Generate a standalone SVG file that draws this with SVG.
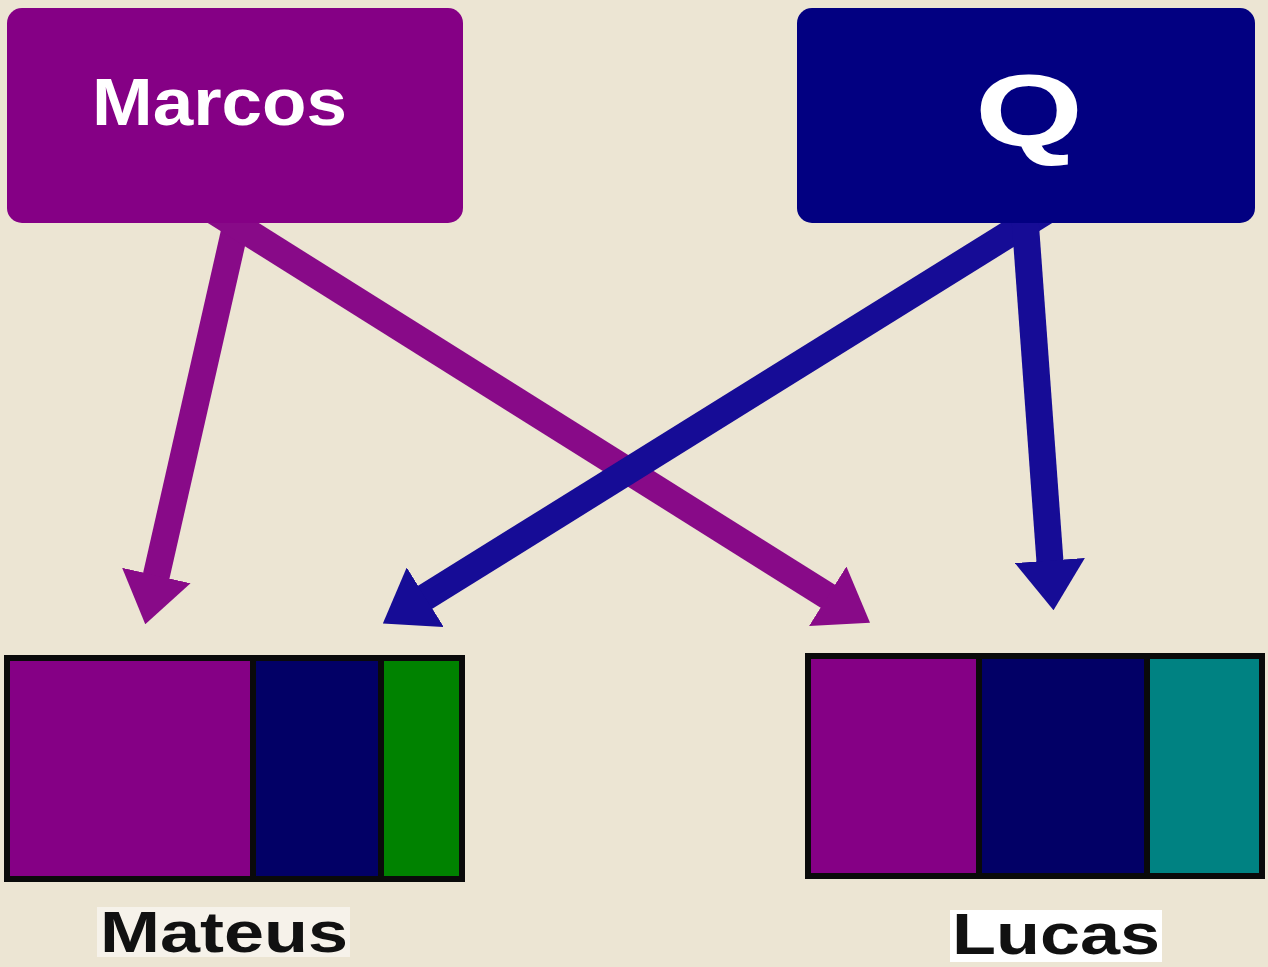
<svg xmlns="http://www.w3.org/2000/svg" width="1268" height="967" viewBox="0 0 1268 967">
<style>
.lbl{font-family:"Liberation Sans",Arial,sans-serif;font-weight:bold}
.wt{fill:#ffffff}
.bk{fill:#111111}
.edge{fill:none;stroke-width:27}
.ep{stroke:#880a88}
.eb{stroke:#160c96}
.bar{stroke:#0a0a0a;stroke-width:6}
</style>
<defs>
<marker id="hp" viewBox="0 0 10 10" refX="0.3" refY="5" markerWidth="1.85" markerHeight="2.6" markerUnits="strokeWidth" orient="auto" preserveAspectRatio="none">
<path d="M0,0 L10,5 L0,10 z" fill="#880a88"/>
</marker>
<marker id="hb" viewBox="0 0 10 10" refX="0.3" refY="5" markerWidth="1.85" markerHeight="2.6" markerUnits="strokeWidth" orient="auto" preserveAspectRatio="none">
<path d="M0,0 L10,5 L0,10 z" fill="#160c96"/>
</marker>
</defs>
<rect x="0" y="0" width="1268" height="967" fill="#ece5d3"/>
<g id="connectors">
<line class="edge ep" x1="253" y1="150" x2="156" y2="577" marker-end="url(#hp)"/>
<line class="edge ep" x1="117" y1="150" x2="829" y2="597" marker-end="url(#hp)"/>
<line class="edge eb" x1="1144" y1="150" x2="424" y2="598" marker-end="url(#hb)"/>
<line class="edge eb" x1="1020" y1="150" x2="1050" y2="562" marker-end="url(#hb)"/>
</g>
<g id="marcos">
<rect x="7" y="8" width="456" height="215" rx="15" fill="#850085"/>
<text class="lbl wt" x="92" y="125" font-size="66" textLength="255" lengthAdjust="spacingAndGlyphs">Marcos</text>
</g>
<g id="q">
<rect x="797" y="8" width="458" height="215" rx="15" fill="#020081"/>
<text class="lbl wt" x="975" y="146" font-size="102" textLength="108" lengthAdjust="spacingAndGlyphs">Q</text>
</g>
<g id="mateus">
<rect x="7" y="658" width="248" height="221" fill="#850085"/>
<rect x="253" y="658" width="129" height="221" fill="#020066"/>
<rect x="381" y="658" width="81" height="221" fill="#008200"/>
<rect class="bar" x="7" y="658" width="455" height="221" fill="none"/>
<line class="bar" x1="253" y1="658" x2="253" y2="879"/>
<line class="bar" x1="381" y1="658" x2="381" y2="879"/>
<rect x="97" y="907" width="253" height="50" fill="#f6f2ea"/>
<text class="lbl bk" x="100" y="952" font-size="58" textLength="248" lengthAdjust="spacingAndGlyphs">Mateus</text>
</g>
<g id="lucas">
<rect x="808" y="656" width="171" height="220" fill="#850085"/>
<rect x="979" y="656" width="168" height="220" fill="#020066"/>
<rect x="1147" y="656" width="115" height="220" fill="#008282"/>
<rect class="bar" x="808" y="656" width="454" height="220" fill="none"/>
<line class="bar" x1="979" y1="656" x2="979" y2="876"/>
<line class="bar" x1="1147" y1="656" x2="1147" y2="876"/>
<rect x="950" y="910" width="212" height="52" fill="#ffffff"/>
<text class="lbl bk" x="952" y="954" font-size="57" textLength="208" lengthAdjust="spacingAndGlyphs">Lucas</text>
</g>
</svg>
